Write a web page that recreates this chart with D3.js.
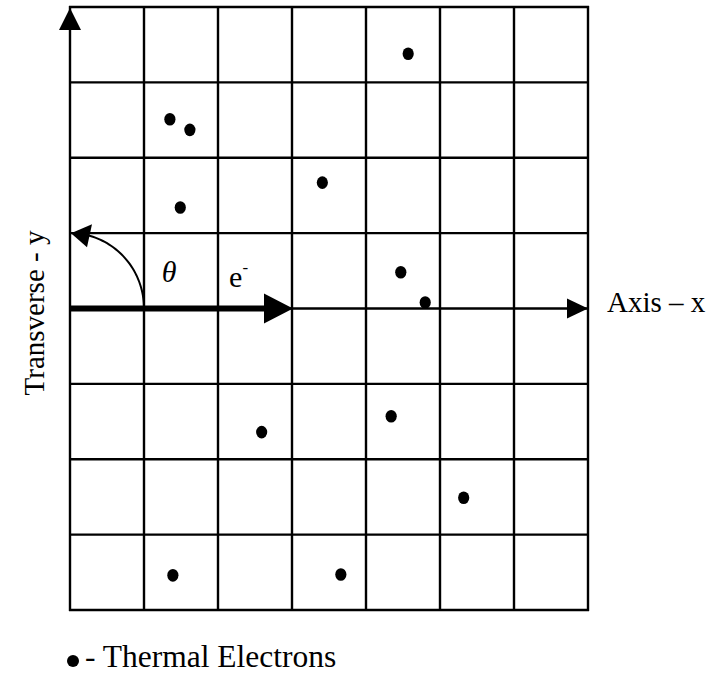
<!DOCTYPE html>
<html lang="en">
<head>
	<meta charset="UTF-8">
	<title>Thermal Electrons</title>
	<script src="https://cdn.jsdelivr.net/npm/d3@7"></script>
	<style>
		body { margin: 0; background: #fff; }
		svg text { font-family: "Liberation Serif", "Times New Roman", serif; fill: #000; }
	</style>
</head>
<body>
<div id="viz"></div>
<script>
	// grid cells: 7 columns, 8 rows, x axis in the middle
	var xCells = d3.range(0, 8);
	var yCells = d3.range(-4, 5);

	// thermal electron positions in cell units
	var dotX = [4.57, 1.35, 1.62, 1.49, 3.41, 4.47, 4.80, 2.59, 4.34, 5.32, 1.39, 3.66];
	var dotY = [3.38, 2.51, 2.37, 1.34, 1.67, 0.48, 0.08, -1.64, -1.43, -2.51, -3.54, -3.53];

	var vectorLength = 3;   // e- arrow, in cells
	var arcRadius = 1;      // theta arc, in cells

	var width = 717, height = 675;

	var x = d3.scaleLinear().domain([0, 7]).range([70, 588]);
	var y = d3.scaleLinear().domain([-4, 4]).range([610, 7]);

	var svg = d3.select('#viz').append('svg')
		.attr('width', width)
		.attr('height', height);

	// grid
	var grid = svg.append('g').attr('stroke', '#000').attr('stroke-width', 2.4);
	grid.selectAll('.vline').data(xCells).enter().append('line')
		.attr('x1', function (d) { return x(d); })
		.attr('x2', function (d) { return x(d); })
		.attr('y1', y(-4) + 1)
		.attr('y2', y(4) - 1);
	grid.selectAll('.hline').data(yCells).enter().append('line')
		.attr('y1', function (d) { return y(d); })
		.attr('y2', function (d) { return y(d); })
		.attr('x1', x(0) - 1)
		.attr('x2', x(7) + 1);

	// y axis arrowhead at top left
	svg.append('path')
		.attr('d', 'M' + x(0) + ',' + (y(4) + 1) + 'L' + (x(0) - 11) + ',' + (y(4) + 23) + 'L' + (x(0) + 11) + ',' + (y(4) + 23) + 'Z')
		.attr('fill', '#000');

	// x axis arrowhead at right
	svg.append('path')
		.attr('d', 'M' + x(7) + ',' + y(0) + 'L' + (x(7) - 21) + ',' + (y(0) - 10) + 'L' + (x(7) - 21) + ',' + (y(0) + 10) + 'Z')
		.attr('fill', '#000');

	// electron vector
	svg.append('line')
		.attr('x1', x(0)).attr('x2', x(vectorLength) - 26)
		.attr('y1', y(0)).attr('y2', y(0))
		.attr('stroke', '#000').attr('stroke-width', 6);
	svg.append('path')
		.attr('d', 'M' + (x(vectorLength) + 1) + ',' + y(0) + 'L' + (x(vectorLength) - 28) + ',' + (y(0) - 15) + 'L' + (x(vectorLength) - 28) + ',' + (y(0) + 15) + 'Z')
		.attr('fill', '#000');

	// theta arc
	var rx = x(arcRadius) - x(0), ry = y(0) - y(arcRadius);
	var arcPts = d3.range(0, 91, 2).map(function (a) {
		var t = a * Math.PI / 180;
		return [x(0) + rx * Math.cos(t), y(0) - ry * Math.sin(t)];
	}).filter(function (p) { return p[0] > x(0) + 14; });
	svg.append('path')
		.attr('d', d3.line()(arcPts))
		.attr('fill', 'none')
		.attr('stroke', '#000')
		.attr('stroke-width', 2);
	svg.append('path')
		.attr('d', 'M' + (x(0) + 1) + ',' + y(arcRadius) + 'L' + (x(0) + 22) + ',' + (y(arcRadius) - 9) + 'L' + (x(0) + 17) + ',' + (y(arcRadius) + 14) + 'Z')
		.attr('fill', '#000');

	svg.append('text')
		.attr('x', x(1.34)).attr('y', y(0.35))
		.attr('text-anchor', 'middle')
		.style('font-style', 'italic')
		.style('font-size', '30px')
		.text('θ');

	var e = svg.append('text')
		.attr('x', x(2.15)).attr('y', y(0.29))
		.style('font-size', '30px');
	e.append('tspan').text('e');
	e.append('tspan').attr('dy', -14).style('font-size', '17px').text('-');

	// dots
	svg.selectAll('.dot').data(dotX).enter().append('ellipse')
		.attr('class', 'dot')
		.attr('cx', function (d) { return x(d); })
		.attr('cy', function (d, i) { return y(dotY[i]); })
		.attr('rx', 5.6)
		.attr('ry', 6.3)
		.attr('fill', '#000');

	// labels
	svg.append('text')
		.attr('x', 607).attr('y', y(0) + 3)
		.style('font-size', '29px')
		.text('Axis – x');

	svg.append('text')
		.attr('transform', 'translate(44,' + 313 + ') rotate(-90)')
		.attr('text-anchor', 'middle')
		.style('font-size', '29px')
		.text('Transverse - y');

	svg.append('circle').attr('cx', 73).attr('cy', 661).attr('r', 6).attr('fill', '#000');
	svg.append('text')
		.attr('x', 85).attr('y', 667)
		.style('font-size', '31.5px')
		.text('- Thermal Electrons');
</script>
</body>
</html>
